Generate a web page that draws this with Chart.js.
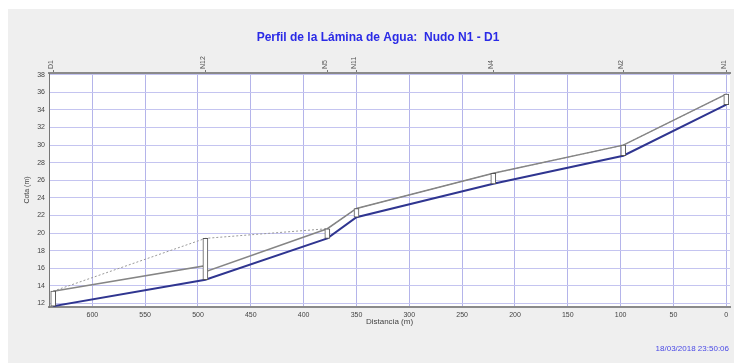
<!DOCTYPE html>
<html>
<head>
<meta charset="utf-8">
<script src="https://cdn.jsdelivr.net/npm/chart.js@4.4.0/dist/chart.umd.min.js"></script>
<style>
body { margin: 0; background: #fff; }
#panel { position: absolute; left: 8px; top: 9px; width: 726px; height: 354px; background: #efefef; }
#wrap { position: absolute; left: 0; top: 0; width: 734px; height: 363px; }
#fecha { position: absolute; right: 5px; top: 344px; font: 8px Arial, "Liberation Sans", sans-serif; color: #4a4ae6; }
</style>
</head>
<body>
<div id="panel"></div>
<div id="wrap"><canvas id="perfil"></canvas></div>
<div id="fecha">18/03/2018 23:50:06</div>
<script>
// Nudos del perfil (distancia desde N1, en m)
const nudos = ['D1', 'N12', 'N5', 'N11', 'N4', 'N2', 'N1'];
const distNudos = [637, 493, 377.6, 350, 220.5, 97.5, 0];
const fondoNudo = [11.7, 14.7, 19.4, 21.8, 25.6, 28.8, 34.6];
const terrenoNudo = [13.4, 19.4, 20.5, 22.8, 26.8, 30.0, 35.8];

// Clave del conducto (parte superior), con salto en N12
const distClave = [637, 493, 493, 377.6, 350, 220.5, 97.5, 0];
const cotaClave = [13.4, 16.3, 15.6, 20.5, 22.8, 26.8, 30.0, 35.8];

// Ticks de los ejes
const ticksX = [0, 50, 100, 150, 200, 250, 300, 350, 400, 450, 500, 550, 600];
const ticksY = [12, 14, 16, 18, 20, 22, 24, 26, 28, 30, 32, 34, 36, 38];

Chart.defaults.font.family = 'Arial, "Liberation Sans", sans-serif';

const fondoBlanco = {
    id: 'fondoBlanco',
    beforeDraw(chart) {
        const { ctx, chartArea: a } = chart;
        ctx.save();
        ctx.fillStyle = '#ffffff';
        ctx.fillRect(a.left, a.top, a.right - a.left, a.bottom - a.top);
        ctx.restore();
    }
};

const ctxPerfil = document.getElementById('perfil').getContext('2d');
const graficoPerfil = new Chart(ctxPerfil, {
    type: 'bar',
    data: {
        datasets: [
            {
                type: 'bar',
                label: 'Pozos',
                data: distNudos.map((d, i) => ({ x: d, y: [fondoNudo[i], terrenoNudo[i]] })),
                backgroundColor: '#ffffff',
                borderColor: '#555555',
                borderWidth: 1,
                borderSkipped: false,
                barThickness: 5,
                order: 0
            },
            {
                type: 'line',
                label: 'Terreno',
                data: distNudos.map((d, i) => ({ x: d, y: terrenoNudo[i] })),
                borderColor: '#9a9a9a',
                borderWidth: 1,
                borderDash: [2, 2],
                pointRadius: 0,
                order: 3
            },
            {
                type: 'line',
                label: 'Clave',
                data: distClave.map((d, i) => ({ x: d, y: cotaClave[i] })),
                borderColor: '#858585',
                borderWidth: 1.5,
                pointRadius: 0,
                order: 2
            },
            {
                type: 'line',
                label: 'Solera',
                data: distNudos.map((d, i) => ({ x: d, y: fondoNudo[i] })),
                borderColor: '#2f3590',
                borderWidth: 2,
                pointRadius: 0,
                order: 1
            }
        ]
    },
    options: {
        responsive: true,
        maintainAspectRatio: false,
        animation: false,
        layout: { padding: { left: 26, right: 4, top: 0, bottom: 36 } },
        plugins: {
            legend: { display: false },
            tooltip: { enabled: false },
            title: {
                display: true,
                text: 'Perfil de la Lámina de Agua:  Nudo N1 - D1',
                color: '#2a2ae6',
                font: { size: 12, weight: 'bold' },
                padding: { top: 30, bottom: 0 }
            }
        },
        scales: {
            x: {
                type: 'linear',
                position: 'bottom',
                reverse: true,
                offset: false,
                min: -3.5,
                max: 641,
                afterBuildTicks: s => { s.ticks = ticksX.map(v => ({ value: v })); },
                afterFit: s => { s.height = 20; },
                ticks: { font: { size: 7 }, color: '#444', maxRotation: 0, padding: 4 },
                grid: { color: '#b4b4ea', drawTicks: false, offset: false },
                border: { color: '#8a8a8a', width: 2 },
                title: {
                    display: true,
                    text: 'Distancia (m)',
                    font: { size: 8 },
                    color: '#444',
                    padding: { top: 0, bottom: 0 }
                }
            },
            x2: {
                type: 'linear',
                position: 'top',
                reverse: true,
                offset: false,
                min: -3.5,
                max: 641,
                afterBuildTicks: s => { s.ticks = distNudos.map(v => ({ value: v })); },
                afterFit: s => { s.height = 28.6; },
                ticks: {
                    autoSkip: false,
                    minRotation: 90,
                    maxRotation: 90,
                    font: { size: 7 },
                    color: '#555',
                    padding: 1,
                    labelOffset: 6,
                    callback: v => nudos[distNudos.indexOf(v)]
                },
                grid: { drawOnChartArea: false, drawTicks: true, tickLength: 3, color: '#777', offset: false },
                border: { color: '#8a8a8a', width: 2 }
            },
            y: {
                type: 'linear',
                min: 11.6,
                max: 38.2,
                afterBuildTicks: s => { s.ticks = ticksY.map(v => ({ value: v })); },
                afterFit: s => { s.width = 23; },
                ticks: { font: { size: 7 }, color: '#444', padding: 4 },
                grid: { color: '#c4c4f0', drawTicks: false },
                border: { color: '#777', width: 1 },
                title: {
                    display: true,
                    text: 'Cota (m)',
                    font: { size: 7 },
                    color: '#444',
                    padding: { top: -3, bottom: 0 }
                }
            }
        }
    },
    plugins: [fondoBlanco]
});
</script>
</body>
</html>
